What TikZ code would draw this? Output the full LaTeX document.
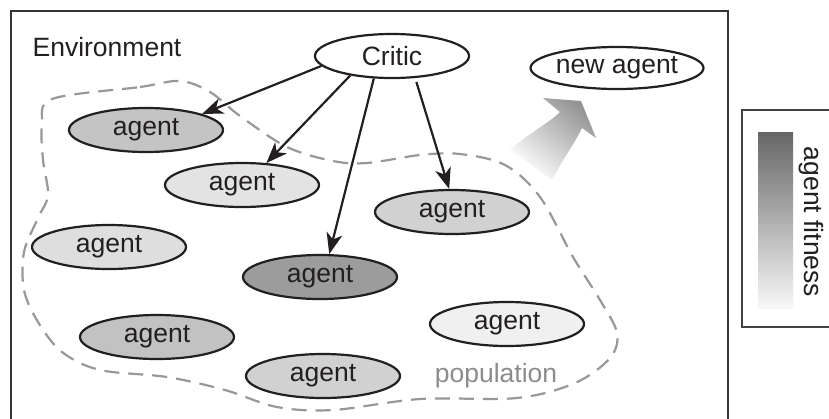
\documentclass[tikz,border=0pt]{standalone}
\usepackage{fontspec}
\setmainfont{Liberation Sans}
\usetikzlibrary{shapes.geometric,arrows.meta}

\definecolor{inkc}{HTML}{231F20}
\definecolor{dashc}{HTML}{989898}
\definecolor{popc}{HTML}{8C8C8C}

\tikzset{
  labelfont/.style={font=\fontsize{26.5}{30}\selectfont},
  agentbox/.style={ellipse, draw=inkc, line width=2.2pt, minimum width=154pt,
    minimum height=44pt, inner sep=0pt, text=inkc, labelfont},
  feed/.style={draw=inkc, line width=2.2pt, -{Stealth[length=21pt,width=16pt,inset=6pt]}},
}

\begin{document}
\begin{tikzpicture}[x=1pt,y=-1pt]
  \clip (0,0) rectangle (829,418);
  \fill[white] (0,0) rectangle (829,418);

  % environment frame
  \draw[line width=2.5pt, draw=inkc!90] (11,11) rectangle (728,440);
  \node[text=inkc, labelfont] (env) at (107,47) {Environment};

  % population boundary
  \draw[dashc, line width=2.2pt, dash pattern=on 15pt off 9pt]
    plot[smooth cycle, tension=0.55] coordinates {
      (52,99) (140,87) (180,81) (210,92) (240,116) (287,147) (333,161)
      (367,163) (420,155) (460,154) (505,165) (540,197) (573,257) (600,300)
      (617,333) (610,358) (575,383) (517,398) (420,399) (333,410) (277,407)
      (225,390) (167,377) (100,370) (62,352) (38,322) (24,290) (24,252)
      (38,218) (48,195) (43,160) (42,125)};

  % reproduction arrow
  \shade[top color=black!42, bottom color=white, shading angle=-40]
    (510,150) .. controls (530,132) and (548,124) .. (560,112)
    -- (543,98) -- (581,101) -- (596,138) -- (582,128)
    .. controls (572,148) and (562,160) .. (552,180)
    .. controls (538,170) and (522,158) .. (510,150) -- cycle;

  % agents
  \node[agentbox, fill=white] (critic) at (392,56) {Critic};
  \node[agentbox, fill=white, minimum width=156pt, minimum height=42pt] (newagent) at (617,68) {new agent};
  \node[agentbox, fill=black!23] (a1) at (146,130) {agent};
  \node[agentbox, fill=black!11] (a2) at (242,185) {agent};
  \node[agentbox, fill=black!18] (a3) at (452,212) {agent};
  \node[agentbox, fill=black!13] (a4) at (109,247) {agent};
  \node[agentbox, fill=black!39] (a5) at (320,277) {agent};
  \node[agentbox, fill=black!24] (a6) at (157,337) {agent};
  \node[agentbox, fill=black!18] (a7) at (323,376) {agent};
  \node[agentbox, fill=black!6] (a8) at (507,324) {agent};

  \node[text=popc, labelfont] (pop) at (496,376) {population};

  % critic feedback
  \draw[feed] (critic.188) -- (a1.16);
  \draw[feed] (critic.205) -- (a2.42);
  \draw[feed] (critic.231) -- (a5.68);
  \draw[feed] ([yshift=-4pt]critic.318) -- (a3.97);

  % fitness legend
  \draw[line width=1.5pt, draw=inkc!85] (742,110) rectangle (845,327);
  \shade[top color=black!60, bottom color=black!3] (758,132) rectangle (793,308);
  \node[rotate=-90, text=inkc, labelfont] (fit) at (811,222) {agent fitness};
\end{tikzpicture}
\end{document}
